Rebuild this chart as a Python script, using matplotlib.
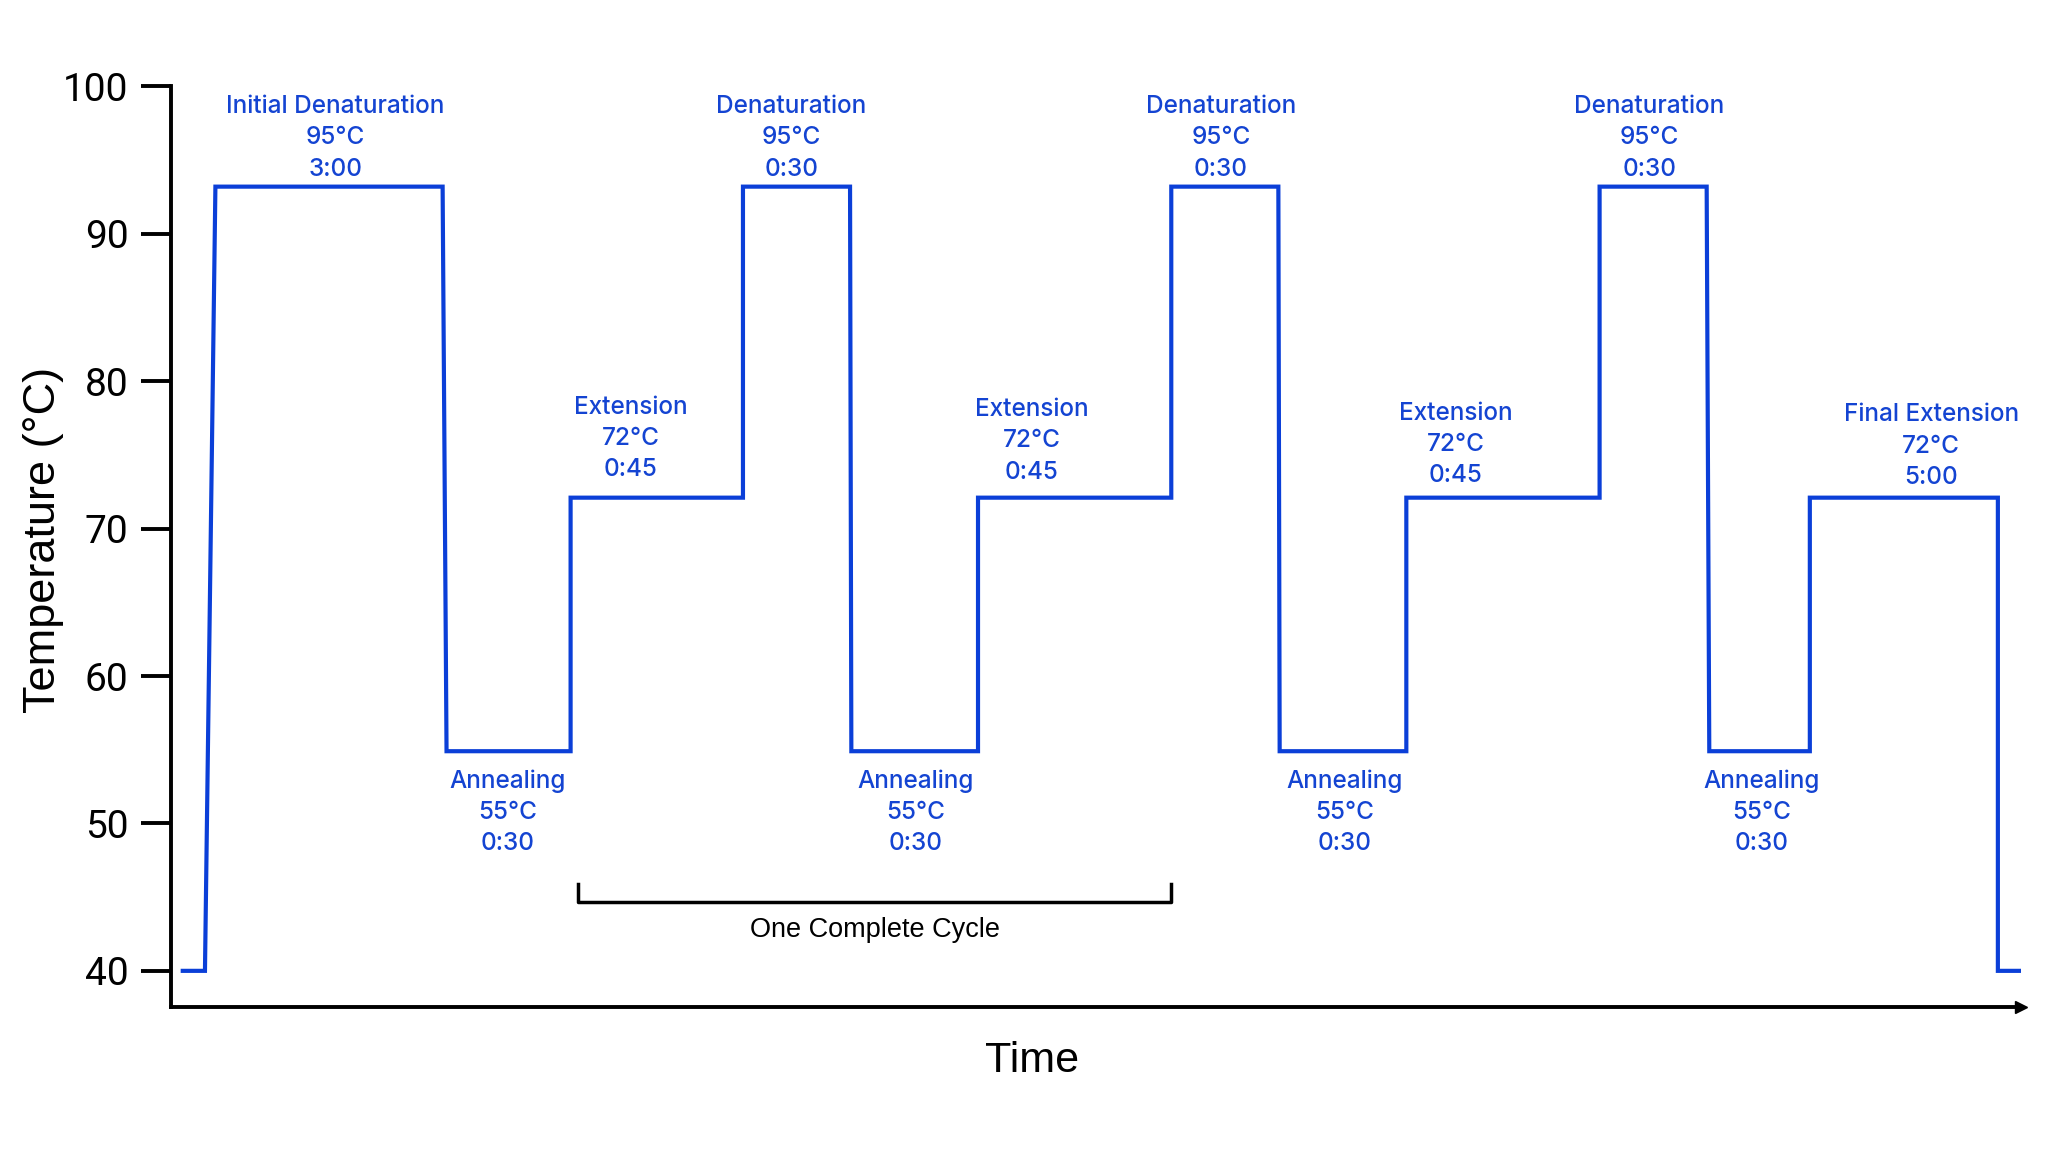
import matplotlib.pyplot as plt

# Temperature profile (schematic time units, temperature in °C)
time = [9, 26, 34, 208, 211, 306, 306, 438, 438, 520, 521, 618, 618, 766,
        766, 848, 849, 946, 946, 1094, 1094, 1176, 1178, 1255, 1255, 1399, 1399, 1417]
temp = [40, 40, 93.2, 93.2, 54.9, 54.9, 72.1, 72.1, 93.2, 93.2, 54.9, 54.9, 72.1, 72.1,
        93.2, 93.2, 54.9, 54.9, 72.1, 72.1, 93.2, 93.2, 54.9, 54.9, 72.1, 72.1, 40, 40]

# Step labels: text, x centre, y of middle line
step_text = ['Initial Denaturation\n95°C\n3:00',
             'Annealing\n55°C\n0:30', 'Extension\n72°C\n0:45',
             'Denaturation\n95°C\n0:30', 'Annealing\n55°C\n0:30', 'Extension\n72°C\n0:45',
             'Denaturation\n95°C\n0:30', 'Annealing\n55°C\n0:30', 'Extension\n72°C\n0:45',
             'Denaturation\n95°C\n0:30', 'Annealing\n55°C\n0:30', 'Final Extension\n72°C\n5:00']
step_x = [126, 258, 352, 475, 570, 659, 804, 899, 984, 1132, 1218, 1348]
step_y = [96.5, 50.75, 76.1, 96.5, 50.75, 75.95, 96.5, 50.75, 75.7, 96.5, 50.75, 75.6]

cycle_start, cycle_end = 312, 766

blue = '#0b3fd8'
label_blue = '#1444d2'

fig = plt.figure(figsize=(20.48, 11.52), dpi=100)
ax = fig.add_axes([0.0835, 0.1259, 0.9035, 0.7991])

ax.plot(time, temp, color=blue, lw=3.0, solid_joinstyle='miter')

for txt, x, y in zip(step_text, step_x, step_y):
    ax.text(x, y, txt, ha='center', va='center', color=label_blue,
            fontsize=17.5, family='Inter', fontweight='medium', linespacing=1.45)

# cycle bracket
ax.plot([cycle_start, cycle_start, cycle_end, cycle_end], [45.9, 44.7, 44.7, 45.9],
        color='black', lw=2.5)
ax.text((cycle_start + cycle_end) / 2, 42.8, 'One Complete Cycle', ha='center', va='center',
        fontsize=19.5, family='Liberation Sans')

ax.set_xlim(0, 1417)
ax.set_ylim(37.55, 100)
ax.set_yticks([40, 50, 60, 70, 80, 90, 100])
ax.set_xticks([])
ax.tick_params(axis='y', direction='out', length=21.5, width=2.8, labelsize=28, pad=9)
for lab in ax.get_yticklabels():
    lab.set_family('Roboto')

ax.spines['top'].set_visible(False)
ax.spines['right'].set_visible(False)
ax.spines['left'].set_linewidth(2.8)
ax.spines['bottom'].set_linewidth(2.8)
ax.plot(1.0, 0, '>k', transform=ax.transAxes, clip_on=False, markersize=8)

fig.text(0.021, 0.531, 'Temperature (°C)', rotation=90, ha='center', va='center',
         fontsize=32.5, family='Liberation Sans')
fig.text(0.504, 0.0794, 'Time', ha='center', va='center', fontsize=31, family='Liberation Sans')

fig.savefig('out.png', dpi=100, facecolor='white')
